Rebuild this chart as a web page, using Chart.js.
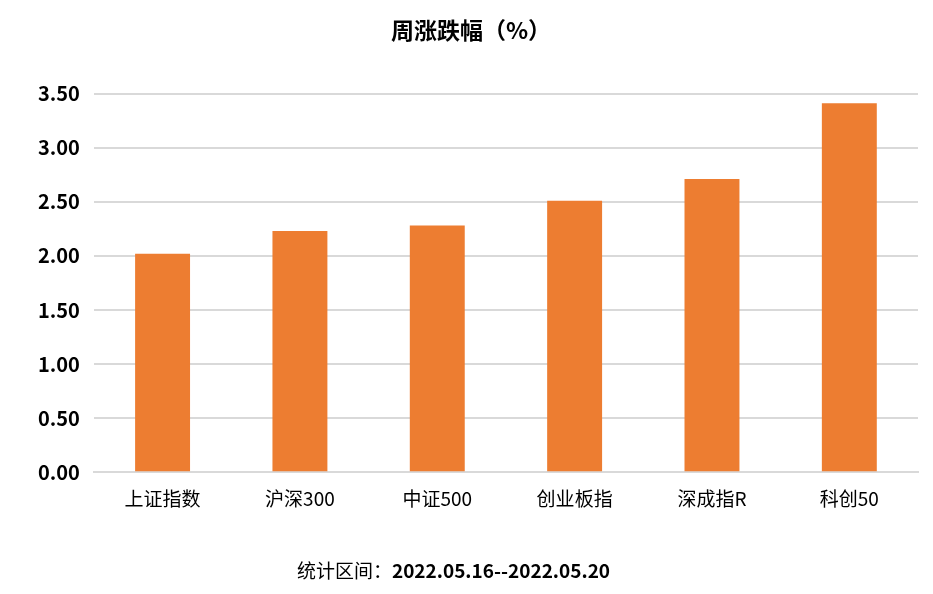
<!DOCTYPE html>
<html>
<head>
<meta charset="utf-8">
<script src="https://cdn.jsdelivr.net/npm/chart.js@4"></script>
<style>
    body { margin: 0; background: #fff; }
    #wrap { position: relative; width: 933px; height: 594px; }
    #footer {
        position: absolute; left: -13px; width: 933px; top: 556px; text-align: center;
        font-family: "Noto Sans CJK SC", sans-serif; font-size: 19px; color: #000;
    }
    #footer b { font-weight: bold; }
</style>
</head>
<body>
<div id="wrap">
    <canvas id="barChart" width="933" height="594"></canvas>
    <div id="footer">统计区间：<b>2022.05.16--2022.05.20</b></div>
</div>
<script>
// dữ liệu
const categories = ["上证指数", "沪深300", "中证500", "创业板指", "深成指R", "科创50"];
const weeklyChange = [2.02, 2.23, 2.28, 2.51, 2.71, 3.41];
const yTicks = [0, 0.5, 1, 1.5, 2, 2.5, 3, 3.5];

const FONT = '"Noto Sans CJK SC", sans-serif';

new Chart(document.getElementById("barChart"), {
    type: "bar",
    data: {
        labels: categories,
        datasets: [{ label: "周涨跌幅", data: weeklyChange, backgroundColor: "#ED7D31", borderWidth: 0, categoryPercentage: 1, barPercentage: 0.4 }]
    },
    options: {
        responsive: false,
        animation: false,
        layout: { padding: { left: 24, right: 15, top: 0, bottom: 77 } },
        plugins: {
            legend: { display: false },
            tooltip: { enabled: false },
            title: {
                display: true,
                text: "周涨跌幅（%）",
                color: "#000",
                font: { family: FONT, size: 23, weight: "bold" },
                padding: { top: 16, bottom: 50 }
            }
        },
        scales: {
            x: {
                grid: { display: false },
                border: { color: "#d9d9d9", width: 2 },
                ticks: { color: "#000", font: { family: FONT, size: 19 }, padding: 7 }
            },
            y: {
                min: 0,
                max: 3.5,
                afterBuildTicks: axis => { axis.ticks = yTicks.map(v => ({ value: v })); },
                grid: { color: "#d9d9d9", lineWidth: 2, drawTicks: false },
                border: { display: false },
                ticks: {
                    color: "#000", padding: 14,
                    font: { family: FONT, size: 20, weight: "bold" },
                    callback: v => v.toFixed(2)
                }
            }
        }
    }
});
</script>
</body>
</html>
